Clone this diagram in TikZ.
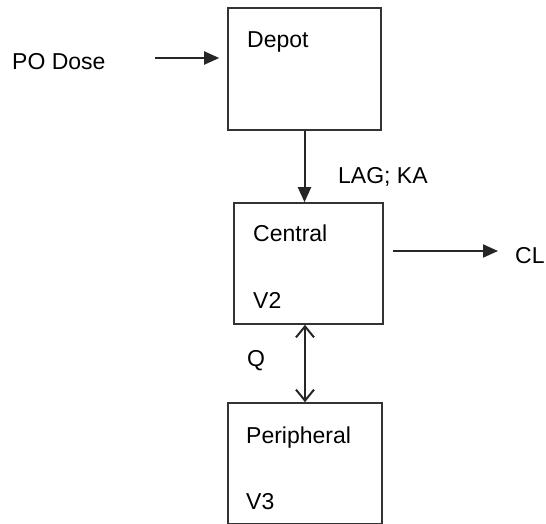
\documentclass[tikz,border=0pt]{standalone}
\usepackage{fontspec}
\setmainfont{Liberation Sans}
\usetikzlibrary{arrows.meta, positioning}

\begin{document}
\begin{tikzpicture}[x=1pt, y=-1pt,
    comp/.style={rectangle, draw=black!80, line width=1.6pt,
                 minimum height=121pt, inner sep=0pt},
    lbl/.style={inner sep=0pt, anchor=base west,
                font=\fontsize{23}{27}\selectfont},
    arr/.style={-{Triangle[length=15pt, width=13pt]}, line width=2pt, black!85},
    barr/.style={{Straight Barb[length=11pt, width=18pt]}-{Straight Barb[length=11pt, width=18pt]},
                 line width=2pt, black!85},
]
\useasboundingbox (0,0) rectangle (546,524);
\clip (0,0) rectangle (546,524);

%% Compartments
\node[comp, minimum width=153pt, minimum height=122pt] (depot) at (304.5,69) {};
\node[comp, minimum width=149pt] (central) at (308.5,263.5) {};
\node[comp, minimum width=154pt] (periph)  at (305,463.5) {};

%% Texts
\node[lbl] (depotlbl)   at (247,48)  {Depot};
\node[lbl] (centrallbl) at (253,241) {Central};
\node[lbl] (v2)         at (253,308) {V2};
\node[lbl] (periphlbl)  at (246,443) {Peripheral};
\node[lbl] (v3)         at (246,509) {V3};
\node[lbl] (podose)     at (12,70)   {PO Dose};
\node[lbl] (lagka)      at (338,183) {LAG; KA};
\node[lbl] (q)          at (247,366) {Q};
\node[lbl] (cl)         at (515,263) {CL};

%% Arrows
\coordinate (dosestart) at (155,58);
\draw[arr, shorten >=8pt] (dosestart) -- (dosestart -| depot.west);
\draw[arr] (depot.south) -- (depot.south |- central.north);
\coordinate (clstart) at (central.east |- 0,251);
\draw[arr, shorten <=9pt, shorten >=17pt] (clstart) -- (clstart -| cl.west);
\draw[barr] (central.south -| periph.north) -- (periph.north);

\end{tikzpicture}
\end{document}
